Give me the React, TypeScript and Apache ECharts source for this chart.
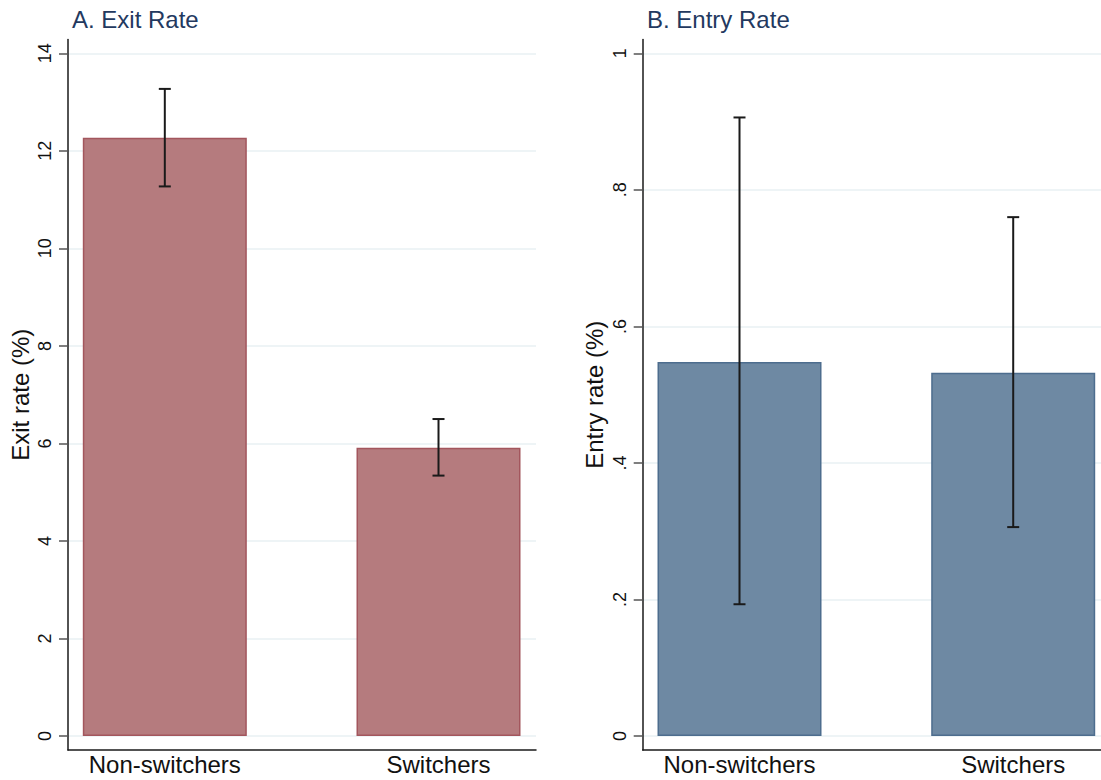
import React, { useEffect, useRef } from "react";
import * as echarts from "echarts";

const categories = ["Non-switchers", "Switchers"];
const exitRate = [12.27, 5.91];
const exitLow = [11.27, 5.34];
const exitHigh = [13.27, 6.5];
const entryRate = [0.548, 0.532];
const entryLow = [0.193, 0.306];
const entryHigh = [0.906, 0.76];
const exitTicks = [0, 2, 4, 6, 8, 10, 12, 14];
const entryTicks = [0, 0.2, 0.4, 0.6, 0.8, 1];
const entryTickLabels = ["0", ".2", ".4", ".6", ".8", "1"];

const FONT = "'Liberation Sans', Arial, Helvetica, sans-serif";

export default function App() {
  const ref = useRef<HTMLDivElement>(null);
  useEffect(() => {
    if (!ref.current) return;
    const chart = echarts.init(ref.current, null, { renderer: "svg" });

    const xMin = -0.3537;
    const xMax = 1.3562;

    const xAxisBase = (gridIndex: number) => ({
      type: "value",
      gridIndex,
      min: xMin,
      max: xMax,
      splitLine: { show: false },
      axisTick: { show: false },
      axisLine: { show: true, onZero: false, lineStyle: { color: "#1a1a1a", width: 1.5 } },
      axisLabel: {
        customValues: [0, 1],
        formatter: (v: number) => categories[Math.round(v)] ?? "",
        fontSize: 24,
        color: "#111",
        fontFamily: FONT,
        margin: 2,
      },
    });

    const yAxisBase = (gridIndex: number, min: number, max: number, ticks: number[], name: string, fmt: (v: number) => string) => ({
      type: "value",
      gridIndex,
      min,
      max,
      name,
      nameLocation: "middle",
      nameGap: 36,
      nameRotate: 90,
      nameTextStyle: { fontSize: 24, color: "#111", fontFamily: FONT },
      axisLine: { show: true, onZero: false, lineStyle: { color: "#1a1a1a", width: 1.5 } },
      axisTick: { show: true, length: 9, customValues: ticks, lineStyle: { color: "#555", width: 1.5 } },
      axisLabel: {
        customValues: ticks,
        formatter: fmt,
        rotate: 90,
        fontSize: 18,
        color: "#111",
        fontFamily: FONT,
        margin: 14,
      },
      splitLine: { show: true, lineStyle: { color: "#e8f1f3", width: 1.5 } },
    });

    const errorSeries = (idx: number, low: number[], high: number[]) => ({
      type: "custom",
      xAxisIndex: idx,
      yAxisIndex: idx,
      z: 10,
      data: low.map((l, i) => [i, l, high[i]]),
      renderItem: (params: any, api: any) => {
        const x = api.value(0);
        const p1 = api.coord([x, api.value(1)]);
        const p2 = api.coord([x, api.value(2)]);
        const hw = 6;
        const style = { stroke: "#1a1a1a", lineWidth: 2 };
        return {
          type: "group",
          children: [
            { type: "line", shape: { x1: p1[0], y1: p1[1], x2: p2[0], y2: p2[1] }, style },
            { type: "line", shape: { x1: p1[0] - hw, y1: p1[1], x2: p1[0] + hw, y2: p1[1] }, style },
            { type: "line", shape: { x1: p2[0] - hw, y1: p2[1], x2: p2[0] + hw, y2: p2[1] }, style },
          ],
        };
      },
    });

    chart.setOption({
      animation: false,
      backgroundColor: "#ffffff",
      title: [
        { text: "A. Exit Rate", left: 67, top: 2, textStyle: { fontSize: 24, fontWeight: "normal", color: "#23395f", fontFamily: FONT } },
        { text: "B. Entry Rate", left: 642, top: 2, textStyle: { fontSize: 24, fontWeight: "normal", color: "#23395f", fontFamily: FONT } },
      ],
      grid: [
        { left: 68, top: 39.5, width: 468, height: 710.5, outerBoundsMode: "none", containLabel: false },
        { left: 642.7, top: 39.5, width: 468, height: 710.5, outerBoundsMode: "none", containLabel: false },
      ],
      xAxis: [xAxisBase(0), xAxisBase(1)],
      yAxis: [
        yAxisBase(0, -0.2871, 14.283, exitTicks, "Exit rate (%)", (v: number) => String(v)),
        yAxisBase(1, -0.0205, 1.0202, entryTicks, "Entry rate (%)", (v: number) => {
          const i = entryTicks.findIndex((t) => Math.abs(t - v) < 1e-6);
          return i >= 0 ? entryTickLabels[i] : "";
        }),
      ],
      series: [
        {
          type: "bar",
          xAxisIndex: 0,
          yAxisIndex: 0,
          barWidth: 164,
          data: exitRate.map((v, i) => [i, v]),
          itemStyle: { color: "#b57b7e", borderColor: "#a3565d", borderWidth: 1.5 },
        },
        {
          type: "bar",
          xAxisIndex: 1,
          yAxisIndex: 1,
          barWidth: 164,
          data: entryRate.map((v, i) => [i, v]),
          itemStyle: { color: "#6e89a3", borderColor: "#4d6d8e", borderWidth: 1.5 },
        },
        errorSeries(0, exitLow, exitHigh),
        errorSeries(1, entryLow, entryHigh),
      ],
    });

    return () => chart.dispose();
  }, []);

  return <div ref={ref} style={{ position: "fixed", left: 0, top: 0, width: 1101, height: 780 }} />;
}
